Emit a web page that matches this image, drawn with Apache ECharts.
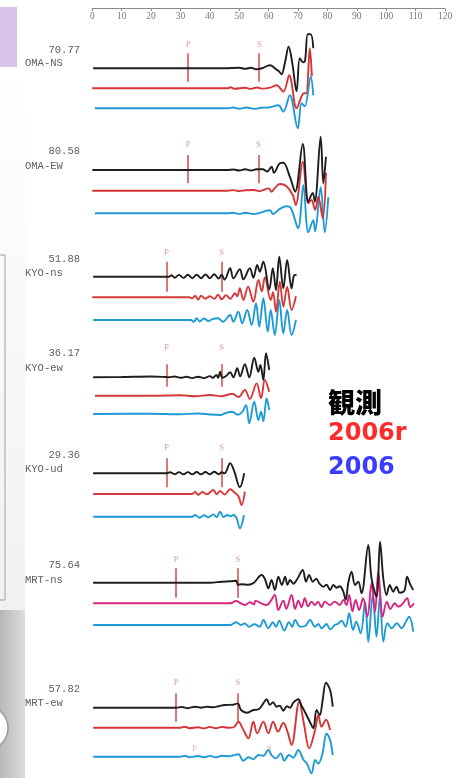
<!DOCTYPE html>
<html><head><meta charset="utf-8">
<script src="https://cdn.jsdelivr.net/npm/echarts@6/dist/echarts.min.js"></script>
<style>html,body{margin:0;padding:0;background:#fff}#c{width:463px;height:778px}</style>
</head><body><div id="c"></div><script>
// ---------------- DATA ----------------
const stations = ['OMA-NS','OMA-EW','KYO-ns','KYO-ew','KYO-ud','MRT-ns','MRT-ew'];
const peakAmps = ['70.77','80.58','51.88','36.17','29.36','75.64','57.82'];
const pTimes = [32.6, 32.6, 25.3, 25.3, 25.3, 28.5, 28.5];
const sTimes = [56.8, 56.5, 44.0, 44.0, 44.0, 49.5, 49.5];
const legendNames = ['観測', '2006r', '2006'];
const mrtEw2006Arrivals = [['P', 34.7], ['S', 60.2]];

// waveforms: [time (s), amplitude]
const obsOMANS = [[0.3,0],[45,0],[50,0.6],[52,-0.5],[54,0.6],[56,-1],[58,0.3],[60.4,3],[61.3,2],[62.3,-0.5],[63.5,-3],[64.4,-6],[65.5,5],[66.8,21.5],[68,6],[69.5,-23],[70.6,10],[71.7,6],[72.4,8],[73.3,34],[74.3,34],[75.2,20]];
const r06OMANS = [[0,0],[46,0],[47,1],[48.5,-0.5],[52,0.5],[54,-0.6],[56,0.8],[58,-0.3],[60.5,0.6],[62.7,3],[65,-3.4],[67,13],[69.5,-20],[71.2,-8],[72,-5],[72.8,-5],[74,40],[74.7,12]];
const s06OMANS = [[0.9,0],[46,0],[48,0.8],[50,-0.6],[52.5,0.8],[55,-0.6],[57.5,0.5],[60,0.8],[63.3,3],[65,-3.4],[67.2,13],[69.9,-20],[71.2,5],[72.3,2],[74.3,31.6],[75.2,13]];

const obsOMAEW = [[0,0],[46,0],[48,0.5],[50,-0.5],[52,0.7],[54,-0.5],[56,0.8],[58,0.7],[59.5,-1.5],[61,3.3],[61.8,-2.7],[63.8,6.7],[65,7.3],[67.2,-6.7],[69,-21.7],[71.6,26],[73.5,-31.7],[75,-23],[75.7,-31.7],[77.7,33.3],[78.6,-13.3],[79.5,13.3]];
const r06OMAEW = [[0,0],[46,0],[48,0.6],[50,-0.4],[52,0.5],[55,0.7],[57,-0.4],[60,2.3],[61,-1],[62,2.3],[63.8,6.7],[66,4.7],[68.2,-4.3],[69.2,-14.3],[71.6,29],[73.5,-12.6],[74.6,-9.3],[75.8,-19.3],[76.9,-6],[78.4,-27.6],[79.5,18]];
const s06OMAEW = [[0.9,0],[46,0],[48,0.5],[50,-0.6],[52,0.6],[55,-0.8],[57,0.5],[60.4,3],[61.5,-0.7],[63.8,4.4],[66,7],[67.6,5],[70,-15],[71.8,28],[73.5,-19],[75.2,-7],[75.8,-18],[77.7,26],[79.1,-19],[80.3,16]];

const obsKYOns = [[0.3,0],[25,0],[26,0],[27,1.5],[28,-1],[29.5,1.8],[31,-1.2],[32.5,2],[34,-1.5],[35.5,2],[37,-1.5],[38.5,2.2],[40,-1.5],[41.5,2.5],[43,-1.8],[44,2],[45,-3],[46.9,8.4],[48,-1.7],[50.2,7.4],[51.4,-2.7],[53.6,8.4],[54.8,-1],[56.1,11.7],[57,5],[58.2,15],[60.2,-12.6],[61.4,8.4],[62.5,-13.3],[63.6,20],[65,-11.7],[66.3,16.7],[67.8,-11.7],[68.6,1],[69.5,2]];
const r06KYOns = [[0,0],[33,0],[34,-1],[35,1.5],[36,-2.5],[37,1.5],[38.5,-1.5],[40,1],[41.5,-1.5],[42.8,2.5],[44,-2],[45.5,2],[47,-1.5],[48.5,4],[49.3,1],[50.2,9],[51.4,-2.7],[53,10.6],[54.8,-4.4],[56.5,17.3],[57.7,6],[58.7,20],[60.7,-2.7],[61.5,5],[62.5,-14.4],[63.8,15.6],[65,-9.4],[66.3,10.6],[67.8,-12.7],[69.3,1]];
const s06KYOns = [[0.3,0],[33.5,0],[34.5,-1.7],[35.5,1.7],[36.5,-1.5],[38,1.5],[39.5,-1],[41,1.2],[42.8,1.7],[44.5,-1.7],[46.9,5],[48,-1.7],[49.7,8.3],[51,-3.3],[52.7,10],[54.2,-5],[55.7,16.7],[56.8,-6.7],[58.2,21.7],[59.7,-11.7],[60.7,10],[62.1,-15],[63.6,20],[65,-13.3],[66.3,10],[67.8,-15],[69.3,0]];

const obsKYOew = [[0.3,0],[10,0.3],[20,0.8],[25,0.3],[26,0],[28,0.8],[30,-0.5],[32,0.5],[34,-0.8],[36,0.5],[38,-0.8],[40,1.2],[41,-0.5],[42.2,2.3],[42.8,-0.5],[43.5,5.6],[44.2,-0.5],[45.4,1],[46.9,5],[48,0],[49.3,9],[50.3,1],[51.9,13],[53.4,0],[55.1,19.6],[56.5,5.6],[57.2,12.3],[58.2,-2.7],[59.1,24],[60.2,7.3]];
const r06KYOew = [[0.9,0],[20,0],[30,0.5],[35,-0.5],[40,0.7],[44,-0.5],[45.7,0.7],[47.7,2],[49.7,-1.3],[51.9,5.7],[53.6,-3.3],[55.9,12.3],[57.4,-2.6],[58.7,15.7],[60.2,4]];
const s06KYOew = [[0.3,0],[20,0.3],[30,-0.3],[36,0.5],[40,-0.5],[43.7,-1],[45,0.5],[47.5,2.3],[49.5,-0.7],[51,2],[52.3,9],[53.4,-9.3],[55.1,12.3],[56.5,-6],[57.4,2.3],[58.2,-7.3],[59.3,15.7],[60.2,4]];

const obsKYOud = [[0.3,0],[25,0],[26.5,1],[28,-1],[29.5,1.2],[31,-1],[32.5,1.2],[34,-1],[35.5,1.3],[37,-1],[38.5,1.3],[40,-1],[41.5,1.5],[43,-1],[44,1],[45,0],[46.9,10],[48.3,2],[50.2,-14],[51.7,0]];
const r06KYOud = [[0.3,0],[34,0],[35,2],[36,-0.8],[37.5,2],[39,-0.3],[41.2,4],[42.3,-0.3],[43.5,3],[45,-0.5],[46.9,4.7],[48.5,1.3],[49.7,-2],[50.8,-11],[51.9,2.3]];
const s06KYOud = [[0.3,0],[34,0],[35,1.7],[36.5,-1],[38,1.5],[39.5,-0.5],[41.2,2.3],[42.3,-0.5],[43.5,5],[44.6,-0.3],[46,1.7],[47,0.5],[48,1.7],[49.1,-1.7],[50.2,-11.7],[51.6,1.5]];

const obsMRTns = [[0.3,0],[40,0],[44,1],[47,1.5],[49,2],[49.5,-2],[51,-1.5],[53,-2],[55,0],[57.6,7.7],[58.7,4],[59.9,-5.6],[61,2.7],[62.1,-7.3],[63.3,6],[64.5,-2.3],[65.6,6],[66.4,-2],[67.3,2.7],[68.4,-1],[69.8,4],[71.6,12.7],[72.7,1],[73.8,7.7],[75,1],[76.2,4],[77.3,-1],[78.6,-4],[79.7,-2],[80.9,-7.3],[82,-2.3],[83.1,-5],[84.2,-3.5],[85.4,-9],[86.2,-17.3],[87.1,0],[88.2,11],[89.4,-2.3],[90.5,1],[91.6,-10.6],[93.9,37.7],[95,4.4],[96.7,-14],[97.9,41],[99,4.4],[100.1,-12.3],[101.2,-2.3],[102.4,-9],[103.5,-4],[104.6,-10],[106.2,-8],[107.1,6],[108.2,-2],[109.2,-7.3]];
const r06MRTns = [[0.3,0],[47,0],[48.9,2.3],[50.5,0],[52,-1.7],[53.6,1],[55,-1.2],[55.5,2.7],[57.5,0],[59.3,-1.7],[60.4,1],[62.1,8.3],[63.3,-6.7],[65,2.7],[66,-5.6],[67.8,8.3],[69,-5.6],[70.1,2.7],[71.2,-3.9],[72.3,5],[73.4,-3],[74.6,1.7],[75.7,-1.7],[76.8,1.7],[78,-3.9],[79.1,1.7],[80.8,-1.7],[82.5,1.7],[84.2,-1.7],[85.4,3.3],[86.5,-1.7],[87.4,8.3],[88.5,-8.3],[89.6,3.3],[90.8,-6.7],[92.1,5],[93.6,-13.3],[95,20],[96.2,-8.3],[97.3,31.7],[98.8,-13.3],[100.2,1.7],[101.4,-5.6],[102.9,0],[104,-3.3],[105.2,-1.7],[107.1,5],[108.2,-3.9],[109.4,0]];
const s06MRTns = [[0.3,0],[47,0],[48.9,2.7],[50.6,0],[51.8,1.5],[53.4,-1.7],[55.1,0.7],[57,-1.7],[58.2,5],[59.9,-3.3],[61.4,2.7],[62.5,-1.7],[63.6,4.4],[65.3,-5.6],[66.9,2.7],[68,-1.7],[69,5],[70.7,-1.7],[72.4,-1],[74.1,5],[75.8,-1.7],[76.9,1],[78,-3.3],[79.7,1],[80.9,-4.4],[82.5,0],[83.6,1.2],[84.8,4.4],[86.2,-1.7],[87.4,11.7],[88.7,-5],[89.8,3.3],[91.3,-8.3],[92.8,23.3],[93.9,-16.7],[95.4,30],[96.7,-11.7],[97.9,30],[99,-16.7],[100.4,1.7],[101.9,-3.3],[103.6,1.7],[105.3,-3.3],[106.4,1.7],[107.8,8.3],[109.2,-6.7]];

const obsMRTew = [[0.3,0],[28.5,0],[30.5,0.7],[32.5,-0.5],[35,1],[37,0],[39,1],[41,0.5],[43,1.5],[45,2.7],[48,3],[49.5,4.3],[50.6,-2.3],[52.5,-5],[54.8,-2.3],[56.5,-1.7],[58.2,4.4],[59.3,8.4],[60.4,3],[61.5,5.4],[62.7,1],[63.8,2],[65,-3],[66.2,1.5],[67.3,0],[68.4,5],[70.1,8.4],[71.2,2],[72.3,-4],[74,-14],[75.2,-20.6],[76.3,-2.3],[77.4,-7.3],[78.3,6],[79.5,25],[80.9,17.7],[81.8,1]];
const r06MRTew = [[0.3,0],[30,0],[31.5,1],[33,-0.5],[36,0.5],[38,-0.7],[40,0.8],[42,-0.5],[44,0.8],[46,0],[48,0.3],[49.7,6],[51.4,-2.3],[53.1,-10.6],[54.8,6],[56.1,-5.6],[58.2,6],[59.9,-5.6],[61.5,6],[63.2,-4],[65,5],[66.4,-4],[67.8,-17.3],[70.4,26],[72,4],[73.8,-20.6],[75.8,-2.3],[76.9,12.7],[78,1],[79.5,8],[80.9,-2.3]];
const s06MRTew = [[0.3,0],[30,0],[31.5,1],[33,-0.5],[36,0.7],[38,-0.5],[40,0.8],[42,-0.7],[44,1],[46.5,0.5],[48,1.5],[49.7,2.5],[51.4,-4],[53.1,-0.5],[54.8,-2.5],[56.5,1.7],[58.2,1],[59.9,6.7],[61.1,1],[62.5,-1.7],[64.1,3.3],[65.3,-4],[66.9,1.7],[68.4,-1],[70.1,6.7],[71.9,-3.3],[73,-6.7],[74.6,-16.7],[75.8,-3.3],[76.9,-7],[78.3,3],[79.7,23.3],[80.9,16.7],[81.8,1.7]];

const waveforms = [
  [obsOMANS, r06OMANS, s06OMANS],
  [obsOMAEW, r06OMAEW, s06OMAEW],
  [obsKYOns, r06KYOns, s06KYOns],
  [obsKYOew, r06KYOew, s06KYOew],
  [obsKYOud, r06KYOud, s06KYOud],
  [obsMRTns, r06MRTns, s06MRTns],
  [obsMRTew, r06MRTew, s06MRTew]
];

// ---------------- LAYOUT / STYLE ----------------
const baseY = [[68.3,88.3,108.3],[170,190.7,213.3],[276.7,297.3,320],[377.3,395.7,414],[473.3,494,516.7],[582.7,603.3,625],[707.7,727.7,756.7]];
const markSpan = [[15,13.4],[15,13.3],[15,15],[13,9.4],[15,14],[14.4,15],[14.4,14]];
const markLabelDist = [4,6,4,12,6,4,6];
const ampLabelY = [50,151,259,353.3,455.5,565,689.7];
const nameLabelY = [63.3,166.7,273,368.7,469.3,580,703.3];
const traceColors = ['#1e1e1e', '#d43434', '#1e9ad6'];
const groupRed = ['#d43434','#d43434','#d43a3a','#d43a3a','#d43a3a','#d6267e','#d43434'];

const series = [];
const drawOrder = [2, 1, 0];
waveforms.forEach((g, gi) => {
  drawOrder.forEach(k => {
    const base = baseY[gi][k];
    const color = k === 1 ? groupRed[gi] : traceColors[k];
    const s = {
      type: 'line',
      name: stations[gi] + ' ' + legendNames[k],
      data: g[k].map(([t, a]) => [t, base - a]),
      smooth: 0.35,
      symbol: 'none',
      silent: true,
      lineStyle: { color: color, width: 1.9 },
      z: 3 + (2 - k)
    };
    if (k === 0) {
      const up = markSpan[gi][0], dn = markSpan[gi][1];
      s.markLine = {
        silent: true, symbol: 'none', animation: false,
        lineStyle: { color: '#d24a4a', width: 1.5, type: 'solid' },
        label: { show: true, position: 'start', distance: markLabelDist[gi], color: '#e39a9a',
                 fontSize: 8.5, fontFamily: 'Liberation Serif', formatter: p => p.name },
        data: [
          [{ name: 'P', coord: [pTimes[gi], base - up] }, { name: 'P', coord: [pTimes[gi], base + dn] }],
          [{ name: 'S', coord: [sTimes[gi], base - up] }, { name: 'S', coord: [sTimes[gi], base + dn] }]
        ]
      };
    }
    series.push(s);
  });
});
// faint arrival labels on MRT-ew 2006 trace
series.push({
  type: 'scatter', symbolSize: 0, silent: true, z: 2,
  data: mrtEw2006Arrivals.map(([n, t]) => ({ name: n, value: [t, baseY[6][2] - 8.4] })),
  label: { show: true, position: 'inside', formatter: p => p.name, color: '#e2a4a4', fontSize: 8.5, fontFamily: 'Liberation Serif' }
});

const graphic = [
  { type: 'rect', shape: { x: 0, y: 67, width: 25, height: 543 }, z: -10,
    style: { fill: new echarts.graphic.LinearGradient(0, 0, 0, 1, [{ offset: 0, color: '#ffffff' }, { offset: 1, color: '#f1f1f1' }]) } },
  { type: 'rect', shape: { x: 0, y: 7, width: 17, height: 60 }, z: -9, style: { fill: '#dcc3ea' } },
  { type: 'polyline', shape: { points: [[0, 255], [5, 255], [5, 600], [0, 600]] }, z: -8, style: { stroke: '#a0a0a0', lineWidth: 1, fill: null } },
  { type: 'rect', shape: { x: 0, y: 610, width: 25, height: 168 }, z: -9,
    style: { fill: new echarts.graphic.LinearGradient(0, 0, 1, 0, [{ offset: 0, color: '#b8b8b8' }, { offset: 1, color: '#dcdcdc' }]) } },
  { type: 'circle', shape: { cx: -14, cy: 728, r: 22 }, z: -7, style: { fill: '#ffffff', stroke: '#9a9a9a', lineWidth: 1.5 } }
];
stations.forEach((n, i) => {
  graphic.push({ type: 'text', x: 80, y: ampLabelY[i], z: 10,
    style: { text: peakAmps[i], fill: '#606060', font: '10.5px "Liberation Mono"', textAlign: 'right', textVerticalAlign: 'middle', align: 'right', verticalAlign: 'middle' } });
  graphic.push({ type: 'text', x: 25, y: nameLabelY[i], z: 10,
    style: { text: n, fill: '#606060', font: '10.5px "Liberation Mono"', textAlign: 'left', textVerticalAlign: 'middle', align: 'left', verticalAlign: 'middle' } });
});
const legendY = [403, 434, 468];
const legendFont = ['900 27px "Noto Sans CJK JP"', 'bold 24px "DejaVu Sans"', 'bold 24px "DejaVu Sans"'];
const legendColor = ['#000000', '#ff2a2a', '#3b3bff'];
legendNames.forEach((n, i) => {
  graphic.push({ type: 'text', x: 328, y: legendY[i], z: 10,
    style: { text: n, fill: legendColor[i], font: legendFont[i], textAlign: 'left', textVerticalAlign: 'middle', align: 'left', verticalAlign: 'middle' } });
});

const chart = echarts.init(document.getElementById('c'), null, { renderer: 'canvas' });
chart.setOption({
  animation: false,
  backgroundColor: '#ffffff',
  grid: { left: 92.3, right: 18, top: 8.5, bottom: 0, containLabel: false },
  xAxis: {
    type: 'value', position: 'top', min: 0, max: 120, interval: 10,
    axisLine: { show: true, onZero: false, lineStyle: { color: '#8a8a8a', width: 1 } },
    axisTick: { show: true, inside: true, length: 2.5, lineStyle: { color: '#8a8a8a' } },
    axisLabel: { inside: true, margin: 3, color: '#777777', fontSize: 9.5, fontFamily: 'Liberation Serif' },
    splitLine: { show: false }
  },
  yAxis: { type: 'value', min: 8.5, max: 778, inverse: true, show: false },
  series: series,
  graphic: graphic
});
</script></body></html>
